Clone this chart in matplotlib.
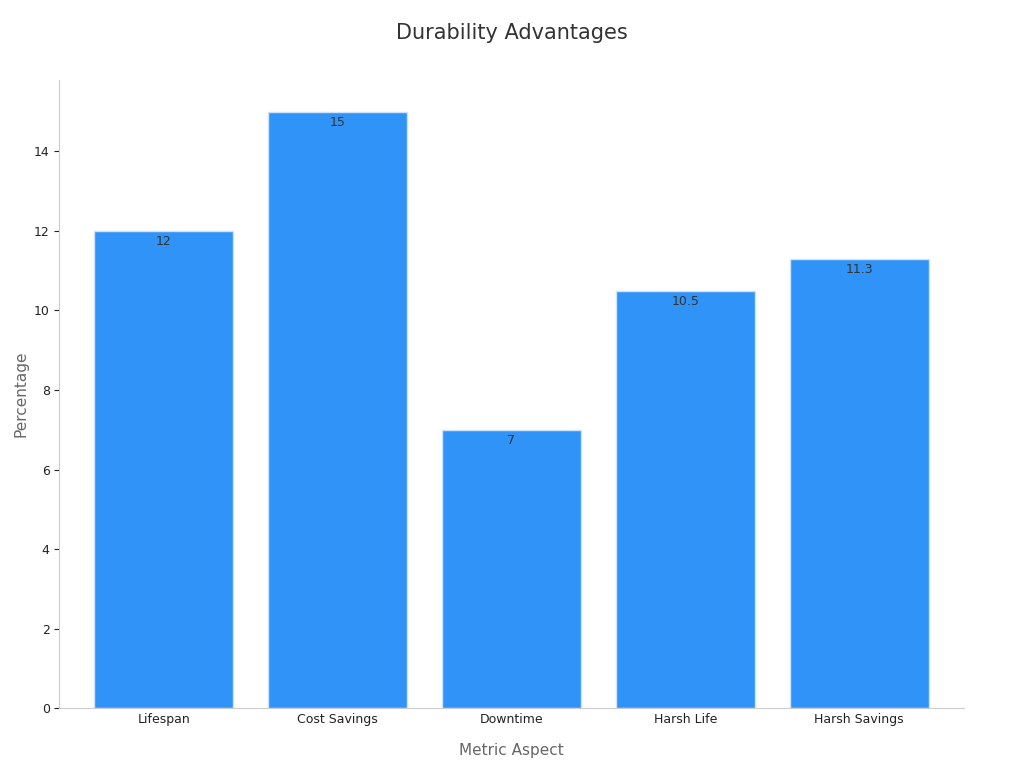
import matplotlib
matplotlib.use("Agg")
import matplotlib.pyplot as plt

categories = ["Lifespan", "Cost Savings", "Downtime", "Harsh Life", "Harsh Savings"]
values = [12, 15, 7, 10.5, 11.3]
labels = ["12", "15", "7", "10.5", "11.3"]

fig = plt.figure(figsize=(10.24, 7.68), dpi=100)
ax = fig.add_axes([0.058, 0.078, 0.883, 0.818])
bars = ax.bar(range(len(categories)), values, width=0.8, color="#2f93f8", edgecolor="#cfe3fb", linewidth=1)
for i, (v, t) in enumerate(zip(values, labels)):
    ax.text(i, v - 0.1, t, ha="center", va="top", fontsize=9, color="#333333")
ax.set_xlim(-0.6, 4.6)
ax.set_ylim(0, 15.8)
ax.set_xticks(range(len(categories)))
ax.set_xticklabels(categories, fontsize=9, color="#222222")
ax.set_yticks([0, 2, 4, 6, 8, 10, 12, 14])
ax.tick_params(axis="y", labelsize=9, colors="#222222")
ax.tick_params(axis="x", length=0)
for s in ["top", "right"]:
    ax.spines[s].set_visible(False)
for s in ["left", "bottom"]:
    ax.spines[s].set_color("#cccccc")
ax.set_xlabel("Metric Aspect", fontsize=11, color="#666666", labelpad=12)
ax.set_ylabel("Percentage", fontsize=11, color="#666666")
fig.suptitle("Durability Advantages", fontsize=15, color="#333333", y=0.97)
fig.savefig("out.png")
